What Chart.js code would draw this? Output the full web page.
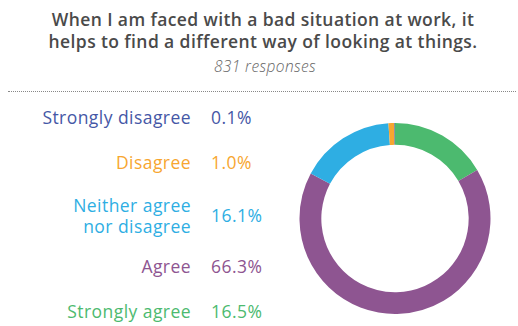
<!DOCTYPE html>
<html>
<head>
<meta charset="utf-8">
<script src="https://cdn.jsdelivr.net/npm/chart.js@4"></script>
<style>
    body { margin: 0; background: #fff; font-family: "Open Sans", sans-serif; }
    #wrap { position: relative; width: 518px; height: 326px; overflow: hidden; }
    #title { position: absolute; left: 0; top: 8px; width: 526px; text-align: center;
             font-size: 17.5px; letter-spacing: 0.4px; font-weight: 600; color: #4a4a4a; line-height: 22px; }
    #subtitle { position: absolute; left: 0; top: 55px; width: 530px; text-align: center;
                font-size: 15.5px; letter-spacing: 0.4px; font-style: italic; font-weight: 300; color: #666; }
    #rule { position: absolute; left: 8px; top: 91px; width: 508px; border-top: 1px dotted #888; }
    .row { position: absolute; left: 0; width: 300px; font-size: 17.5px; letter-spacing: 0.45px;
           font-weight: 400; line-height: 21px; }
    .row .lbl { position: absolute; right: 109px; text-align: right; white-space: pre; }
    .row .val { position: absolute; left: 211px; }
    #donut-box { position: absolute; left: 290px; top: 113px; width: 210px; height: 211px; }
</style>
</head>
<body>
<div id="wrap">
    <div id="title"></div>
    <div id="subtitle"></div>
    <div id="rule"></div>
    <div id="rows"></div>
    <div id="donut-box"><canvas id="donut"></canvas></div>
</div>
<script>
// survey answers, listed top to bottom as in the side legend
const titleLines = ['When I am faced with a bad situation at work, it', 'helps to find a different way of looking at things.'];
const responses = 831;
const answers = ['Strongly disagree', 'Disagree', 'Neither agree\nnor disagree', 'Agree', 'Strongly agree'];
const shares = [0.1, 1.0, 16.1, 66.3, 16.5];
const colors = ['#4557a6', '#f7a630', '#2eaee3', '#8e5591', '#4cba6f'];

// vertical centre of each legend row
const rowY = [118, 163, 216, 267, 312];

document.getElementById('title').innerHTML = titleLines.join('<br>');
document.getElementById('subtitle').textContent = `${responses} responses`;

const rows = document.getElementById('rows');
answers.forEach((name, i) => {
    const lines = name.split('\n').length;
    const row = document.createElement('div');
    row.className = 'row';
    row.style.color = colors[i];
    row.style.top = `${rowY[i] - 11}px`;
    row.innerHTML = `
        <span class="lbl" style="top:${-(lines - 1) * 10.5}px">${name}</span>
        <span class="val">${shares[i].toFixed(1)}%</span>
    `;
    rows.appendChild(row);
});

// ring runs clockwise from 12 o'clock: strongly agree first, strongly disagree last
const ringLabels = answers.slice().reverse();
const ringData = shares.slice().reverse();
const ringColors = colors.slice().reverse();

new Chart(document.getElementById('donut').getContext('2d'), {
    type: 'doughnut',
    data: {
        labels: ringLabels,
        datasets: [{
            data: ringData,
            backgroundColor: ringColors,
            borderWidth: 0,
            radius: 95.5,
            cutout: 81
        }]
    },
    options: {
        responsive: true,
        maintainAspectRatio: false,
        animation: false,
        layout: { padding: 0 },
        plugins: { legend: { display: false }, tooltip: { enabled: false } }
    }
});
</script>
</body>
</html>
